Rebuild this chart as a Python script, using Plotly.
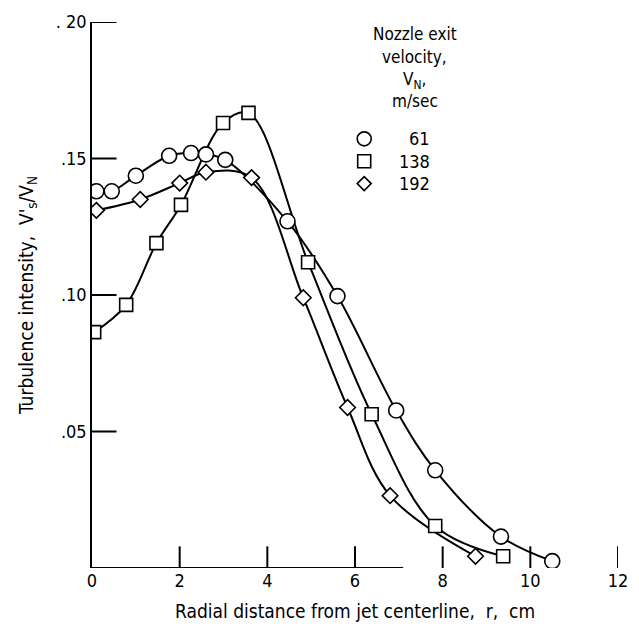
import plotly.graph_objects as go

# ---- data ----
r_61 = [0.1, 0.45, 1.0, 1.76, 2.26, 2.6, 3.04, 4.46, 5.6, 6.94, 7.83, 9.33, 10.5]
v_61 = [0.138, 0.138, 0.1437, 0.151, 0.152, 0.1515, 0.1495, 0.127, 0.0996, 0.0577, 0.0358, 0.0115, 0.0025]

r_138 = [0.05, 0.78, 1.47, 2.03, 2.99, 3.57, 4.93, 6.38, 7.83, 9.38]
v_138 = [0.0864, 0.0964, 0.119, 0.133, 0.163, 0.1667, 0.112, 0.0563, 0.0154, 0.0043]

r_192 = [0.1, 1.1, 2.0, 2.6, 3.64, 4.82, 5.83, 6.8, 8.75]
v_192 = [0.131, 0.135, 0.141, 0.145, 0.143, 0.099, 0.0588, 0.0265, 0.0043]

x_ticks = [0, 2, 4, 6, 8, 10, 12]
y_ticks = [0.05, 0.10, 0.15, 0.20]
y_tick_labels = [".05", ".10", ".15", ". 20"]

series = [
    ("61", r_61, v_61, "circle", 15),
    ("138", r_138, v_138, "square", 13),
    ("192", r_192, v_192, "diamond", 12),
]

FONT = "Liberation Sans Narrow, DejaVu Sans Condensed, Arial Narrow, sans-serif"

W, H = 639, 629
ML, MR, MT, MB = 92, 11, 14, 60
X_RANGE = [0, 12]
Y_RANGE = [0, 0.2]
x_per_px = (X_RANGE[1] - X_RANGE[0]) / (W - ML - MR)
y_per_px = (Y_RANGE[1] - Y_RANGE[0]) / (H - MT - MB)

fig = go.Figure()

# tick marks pointing into the plot (built from the tick arrays)
tx, ty = [], []
for xv in x_ticks[1:]:
    tx += [xv, xv, None]
    ty += [0, 22 * y_per_px, None]
for yv in y_ticks:
    tx += [0, 25 * x_per_px, None]
    ty += [yv, yv, None]
# partial bottom axis line
tx += [0, 7.1, None]
ty += [0, 0, None]
fig.add_trace(go.Scatter(x=tx, y=ty, mode="lines", line=dict(color="black", width=2),
                         showlegend=False, hoverinfo="skip", cliponaxis=False))

for name, xs, ys, sym, sz in series:
    fig.add_trace(go.Scatter(
        x=xs, y=ys, mode="lines", name=name,
        line=dict(color="black", width=2, shape="spline", smoothing=1.0),
        showlegend=False, hoverinfo="skip",
    ))
for name, xs, ys, sym, sz in series:
    fig.add_trace(go.Scatter(
        x=xs, y=ys, mode="markers", name=name,
        marker=dict(symbol=sym, size=sz, color="white",
                    line=dict(color="black", width=1.6)),
        showlegend=False,
    ))

# legend block
legend_lines = ["Nozzle exit", "velocity,", "V<sub>N</sub>,", "m/sec"]
legend_y = [0.978, 0.936, 0.893, 0.856]
for txt, yy in zip(legend_lines, legend_y):
    fig.add_annotation(text=txt, xref="paper", yref="paper", x=0.614, y=yy,
                       showarrow=False, xanchor="center", yanchor="middle",
                       font=dict(family=FONT, size=17, color="black"))

entry_y = [0.786, 0.745, 0.704]
shape_paths = {
    "square": "M -6.5 -6.5 L 6.5 -6.5 L 6.5 6.5 L -6.5 6.5 Z",
    "diamond": "M 0 -7 L 7 0 L 0 7 L -7 0 Z",
}
for (name, xs, ys, sym, sz), yy in zip(series, entry_y):
    if sym == "circle":
        fig.add_shape(type="circle", xref="paper", yref="paper",
                      xsizemode="pixel", ysizemode="pixel",
                      xanchor=0.5175, yanchor=yy, x0=-7, x1=7, y0=-7, y1=7,
                      line=dict(color="black", width=1.6))
    else:
        fig.add_shape(type="path", xref="paper", yref="paper",
                      xsizemode="pixel", ysizemode="pixel",
                      xanchor=0.5175, yanchor=yy, path=shape_paths[sym],
                      line=dict(color="black", width=1.6))
    fig.add_annotation(text=name, xref="paper", yref="paper", x=0.647, y=yy,
                       showarrow=False, xanchor="right", yanchor="middle",
                       font=dict(family=FONT, size=18, color="black"))

fig.update_layout(
    width=W, height=H,
    margin=dict(l=ML, r=MR, t=MT, b=MB),
    paper_bgcolor="white", plot_bgcolor="white",
    font=dict(family=FONT, size=16, color="black"),
    showlegend=False,
    xaxis=dict(
        range=X_RANGE, tickvals=x_ticks, ticktext=[str(v) for v in x_ticks],
        ticks="", showline=False, showgrid=False, zeroline=False,
        tickfont=dict(family=FONT, size=18),
        title=dict(text="Radial distance from jet centerline,  r,  cm",
                   font=dict(family=FONT, size=19), standoff=14),
    ),
    yaxis=dict(
        range=Y_RANGE, tickvals=y_ticks, ticktext=y_tick_labels,
        ticks="", showline=True, linecolor="black", linewidth=1.5,
        showgrid=False, zeroline=False,
        tickfont=dict(family=FONT, size=18),
        title=dict(text="Turbulence intensity,  V'<sub>s</sub>/V<sub>N</sub>",
                   font=dict(family=FONT, size=19), standoff=17),
    ),
)

fig.write_html("out.html")
